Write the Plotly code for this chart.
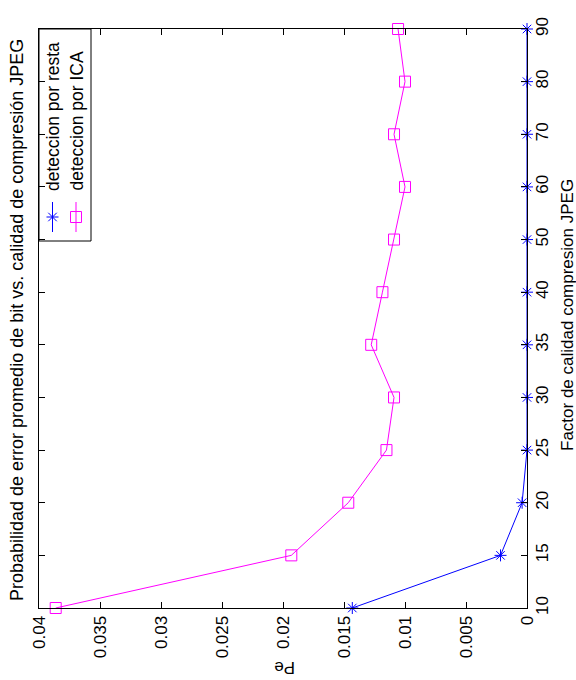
import plotly.graph_objects as go

# Quality factors (equally spaced categories) and error probabilities
calidad = ["10", "15", "20", "25", "30", "35", "40", "50", "60", "70", "80", "90"]
pe_resta = [0.01432, 0.00217, 0.0004, 0.0, 0.0, 0.0, 0.0, 0.0, 0.0, 0.0, 0.0, 0.0]
pe_ica = [0.03863, 0.01932, 0.01465, 0.01152, 0.0109, 0.01277, 0.01185,
          0.0109, 0.0100, 0.0109, 0.0100, 0.01057]
pe_ticks = [0, 0.005, 0.01, 0.015, 0.02, 0.025, 0.03, 0.035, 0.04]
pe_ticktext = ["0", "0.005", "0.01", "0.015", "0.02", "0.025", "0.03", "0.035", "0.04"]

W, H = 576, 680
ML, MR, MT, MB = 39, 49, 29, 72
PL, PR, PT, PB = ML, W - MR, MT, H - MB
FONT = "Liberation Sans, Arial, sans-serif"
FS = 17
FS_TITLE = 18
FS_LEG = 17.5
BLUE = "rgb(0,0,255)"
MAG = "rgb(255,0,255)"


def px(x):
    return (x - PL) / (PR - PL)


def py(y):
    return (PB - y) / (PB - PT)


fig = go.Figure()
fig.add_trace(go.Scatter(
    x=pe_resta, y=calidad, mode="lines+markers", name="deteccion por resta",
    line=dict(color=BLUE, width=1),
    marker=dict(symbol="asterisk-open", size=10, color=BLUE, line=dict(color=BLUE, width=1)),
    cliponaxis=False, showlegend=False,
))
fig.add_trace(go.Scatter(
    x=pe_ica, y=calidad, mode="lines+markers", name="deteccion por ICA",
    line=dict(color=MAG, width=1),
    marker=dict(symbol="square-open", size=11, color=MAG, line=dict(color=MAG, width=1)),
    cliponaxis=False, showlegend=False,
))

# Legend glyphs on an overlay axis in plot-fraction units
leg_x = [px(52.5), px(76)]
leg_y = [py(217), py(217)]
fig.add_trace(go.Scatter(
    x=[leg_x[0]], y=[leg_y[0]], xaxis="x2", yaxis="y2", mode="markers",
    marker=dict(symbol="asterisk-open", size=10, color=BLUE, line=dict(color=BLUE, width=1)),
    showlegend=False, cliponaxis=False, hoverinfo="skip",
))
fig.add_trace(go.Scatter(
    x=[leg_x[1]], y=[leg_y[1]], xaxis="x2", yaxis="y2", mode="markers",
    marker=dict(symbol="square-open", size=11, color=MAG, line=dict(color=MAG, width=1)),
    showlegend=False, cliponaxis=False, hoverinfo="skip",
))

shapes = [
    dict(type="rect", xref="paper", yref="paper", x0=px(39), x1=px(91), y0=py(241), y1=py(29),
         line=dict(color="black", width=1), fillcolor="white", layer="below"),
    dict(type="line", xref="paper", yref="paper", x0=leg_x[0], x1=leg_x[0], y0=py(232), y1=py(202),
         line=dict(color=BLUE, width=1)),
    dict(type="line", xref="paper", yref="paper", x0=leg_x[1], x1=leg_x[1], y0=py(232), y1=py(202),
         line=dict(color=MAG, width=1)),
]

annotations = [
    dict(text="Probabilidad de error promedio de bit vs. calidad de compresión JPEG",
         xref="paper", yref="paper", x=px(17), y=py(320), textangle=-90, showarrow=False,
         font=dict(size=FS_TITLE, color="black", family=FONT), xanchor="center", yanchor="middle"),
    dict(text="Factor de calidad compresion JPEG",
         xref="paper", yref="paper", x=px(567), y=py(315), textangle=-90, showarrow=False,
         font=dict(size=FS, color="black", family=FONT), xanchor="center", yanchor="middle"),
    dict(text="Pe", xref="paper", yref="paper", x=px(285), y=py(668), textangle=180,
         showarrow=False, font=dict(size=FS, color="black", family=FONT),
         xanchor="center", yanchor="middle"),
    dict(text="deteccion por resta", xref="paper", yref="paper", x=leg_x[0], y=py(193),
         textangle=-90, showarrow=False, font=dict(size=FS_LEG, color="black", family=FONT),
         xanchor="center", yanchor="bottom"),
    dict(text="deteccion por ICA", xref="paper", yref="paper", x=leg_x[1], y=py(193),
         textangle=-90, showarrow=False, font=dict(size=FS_LEG, color="black", family=FONT),
         xanchor="center", yanchor="bottom"),
]

axis_common = dict(
    showline=True, linecolor="black", linewidth=1, mirror="ticks", ticks="inside",
    ticklen=6, tickcolor="black", tickwidth=1, showgrid=False, zeroline=False,
    tickangle=-90, tickfont=dict(size=FS, color="black", family=FONT),
)

fig.update_layout(
    width=W, height=H, margin=dict(l=ML, r=MR, t=MT, b=MB),
    paper_bgcolor="white", plot_bgcolor="white",
    font=dict(family=FONT, size=FS, color="black"),
    xaxis=dict(range=[0.04, 0], tickvals=pe_ticks, ticktext=pe_ticktext, **axis_common),
    yaxis=dict(type="category", categoryorder="array", categoryarray=calidad,
               range=[0, len(calidad) - 1], side="right", **axis_common),
    xaxis2=dict(range=[0, 1], overlaying="x", visible=False, fixedrange=True),
    yaxis2=dict(range=[0, 1], overlaying="y", visible=False, fixedrange=True),
    shapes=shapes, annotations=annotations, showlegend=False,
)

fig.write_html("out.html")
